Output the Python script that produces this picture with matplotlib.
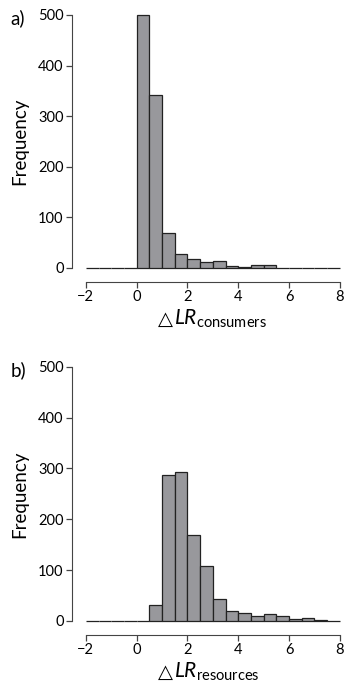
import matplotlib.pyplot as plt
import numpy as np

plt.rcParams.update({
    "font.family": "Lato",
    "mathtext.fontset": "custom",
    "mathtext.rm": "Lato",
    "mathtext.it": "Lato:italic",
})

# bin edges (width 0.5) and counts
bin_left = np.arange(-2, 8, 0.5)
counts_consumers = [0, 0, 0, 0, 500, 342, 70, 27, 17, 11, 13, 4, 2, 5, 5, 0, 0, 0, 0, 0]
counts_resources = [0, 0, 0, 0, 0, 31, 287, 292, 170, 109, 43, 20, 16, 10, 13, 9, 3, 5, 2, 0]
x_ticks = [-2, 0, 2, 4, 6, 8]
y_ticks = [0, 100, 200, 300, 400, 500]

W, H = 345, 688
fig = plt.figure(figsize=(W / 100, H / 100), dpi=100)
ax_a = fig.add_axes([0.249, 0.6105, 0.736, 0.3677])
ax_b = fig.add_axes([0.249, 0.0974, 0.736, 0.3696])

# (axes, counts, subscript, panel tag, label baseline in px from top)
panels = [
    (ax_a, counts_consumers, 'consumers', 'a)', 325),
    (ax_b, counts_resources, 'resources', 'b)', 678),
]

for ax, counts, sub, tag, base in panels:
    ax.bar(bin_left, counts, width=0.5, align='edge', color='#98989c',
           edgecolor='#222222', linewidth=0.9, clip_on=False)
    ax.set_xlim(-2, 8)
    ax.set_ylim(0, 500)
    ax.set_xticks(x_ticks)
    ax.set_xticklabels(['\u22122', '0', '2', '4', '6', '8'])
    ax.set_yticks(y_ticks)
    for s in ['top', 'right']:
        ax.spines[s].set_visible(False)
    ax.spines['left'].set_position(('outward', 10))
    ax.spines['bottom'].set_position(('outward', 10))
    ax.spines['left'].set_color('#444444')
    ax.spines['bottom'].set_color('#444444')
    ax.tick_params(axis='both', labelsize=10.5, length=4, width=0.9,
                   color='#444444', pad=2)
    ax.set_ylabel('Frequency', fontsize=13.5, labelpad=7)

    # x label: triangle + italic LR with subscript
    yb = 1 - base / H
    fig.text(158 / W, yb, '\u25b3', family='DejaVu Sans', fontsize=14,
             ha='left', va='baseline')
    fig.text(174 / W, yb, r'$\mathit{LR}_{\mathrm{%s}}$' % sub, fontsize=15,
             ha='left', va='baseline')

    bbox = ax.get_position()
    fig.text(0.03, bbox.y1 - 0.005, tag, fontsize=13.5, va='center', ha='left')

plt.savefig('out.png', dpi=100)
